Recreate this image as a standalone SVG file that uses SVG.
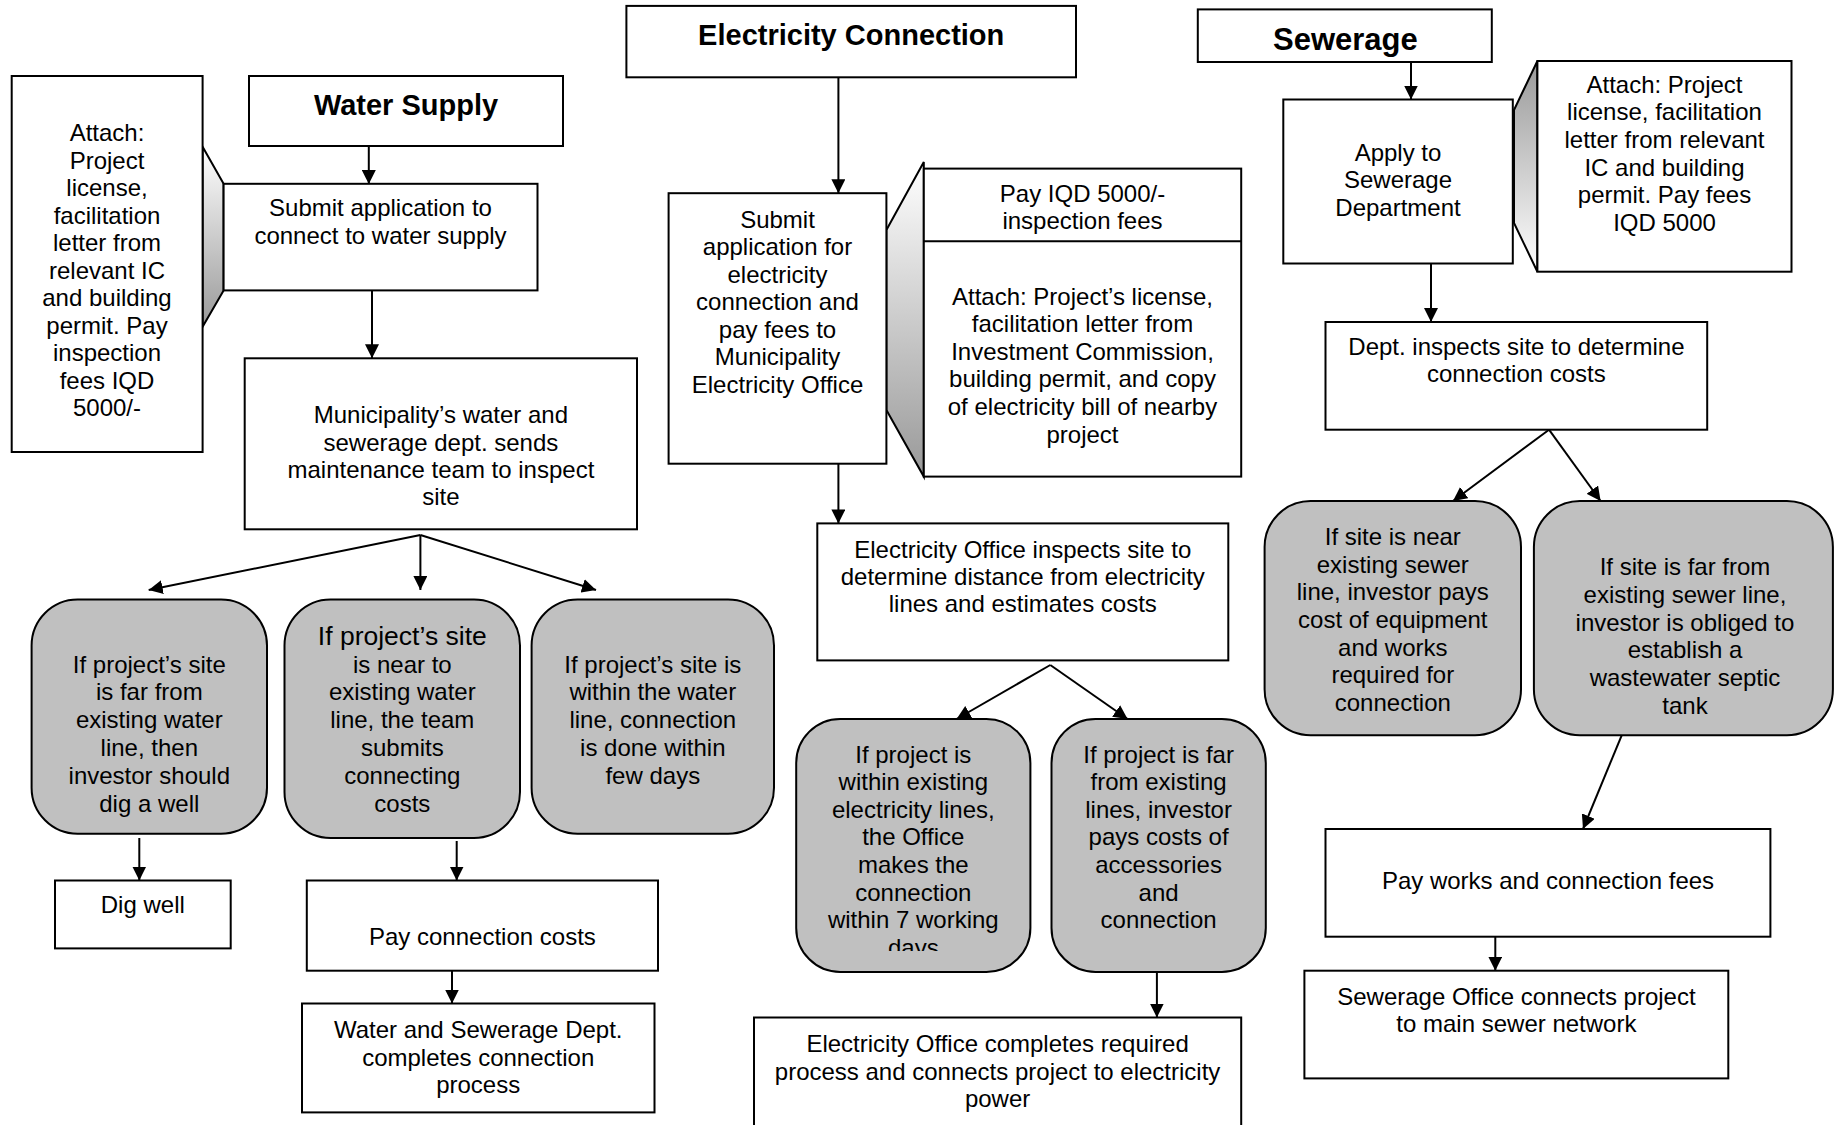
<svg xmlns="http://www.w3.org/2000/svg" width="1836" height="1125" viewBox="0 0 1836 1125">
<style>
.box{fill:#fff;stroke:#000;stroke-width:2}
.rbox{fill:#c0c0c0;stroke:#000;stroke-width:2}
.t{font-family:"Liberation Sans",Arial,sans-serif;font-size:24px;text-anchor:middle;fill:#000}
.h{font-weight:bold;font-size:29px}
.big{font-size:26.5px}
.conn line{stroke:#000;stroke-width:2;marker-end:url(#ah)}
.conn path{fill:none;stroke:#000;stroke-width:2}
.wedge{stroke:#000;stroke-width:2}
</style>
<defs>
<marker id="ah" markerUnits="userSpaceOnUse" markerWidth="15" markerHeight="14" refX="14" refY="7" orient="auto">
<path d="M0,0 L14,7 L0,14 z" fill="#000"/>
</marker>
<linearGradient id="gDown" x1="0" y1="0" x2="0" y2="1">
<stop offset="0" stop-color="#ffffff"/>
<stop offset="1" stop-color="#999999"/>
</linearGradient>
<linearGradient id="gUp" x1="0" y1="0" x2="0" y2="1">
<stop offset="0" stop-color="#999999"/>
<stop offset="1" stop-color="#ffffff"/>
</linearGradient>
<clipPath id="clipA"><rect x="796" y="719" width="235" height="232"/></clipPath>
</defs>
<rect width="1836" height="1125" fill="#fff"/>

<!-- wedges -->
<polygon class="wedge" points="202.6,146.7 223.6,183.8 223.6,290.4 202.6,326.7" fill="url(#gDown)"/>
<polygon class="wedge" points="886.4,230 923.8,162 923.8,476.6 886.4,410" fill="url(#gDown)"/>
<polygon class="wedge" points="1514,110 1537.4,61 1537.4,271.7 1514,223" fill="url(#gUp)"/>

<!-- Water supply -->
<g id="water-attach">
<rect class="box" x="11.7" y="76" width="190.9" height="376"/>
<text class="t"><tspan x="107" y="141">Attach:</tspan><tspan x="107" y="168.5">Project</tspan><tspan x="107" y="196">license,</tspan><tspan x="107" y="223.5">facilitation</tspan><tspan x="107" y="251">letter from</tspan><tspan x="107" y="278.5">relevant IC</tspan><tspan x="107" y="306">and building</tspan><tspan x="107" y="333.5">permit. Pay</tspan><tspan x="107" y="361">inspection</tspan><tspan x="107" y="388.5">fees IQD</tspan><tspan x="107" y="416">5000/-</tspan></text>
</g>
<g id="water-header">
<rect class="box" x="249" y="76" width="314" height="70"/>
<text class="t h" x="406" y="115">Water Supply</text>
</g>
<g id="water-submit">
<rect class="box" x="223.6" y="183.8" width="313.9" height="106.6"/>
<text class="t"><tspan x="380.5" y="215.5">Submit application to</tspan><tspan x="380.5" y="244">connect to water supply</tspan></text>
</g>
<g id="water-inspect">
<rect class="box" x="244.7" y="358.3" width="392.3" height="171"/>
<text class="t"><tspan x="440.9" y="423">Municipality’s water and</tspan><tspan x="440.9" y="451">sewerage dept. sends</tspan><tspan x="440.9" y="478">maintenance team to inspect</tspan><tspan x="440.9" y="505">site</tspan></text>
</g>
<g id="water-far">
<rect class="rbox" x="31.6" y="599.5" width="235.4" height="234.2" rx="46" ry="46"/>
<text class="t"><tspan x="149.3" y="672.5">If project’s site</tspan><tspan x="149.3" y="700.3">is far from</tspan><tspan x="149.3" y="728.1">existing water</tspan><tspan x="149.3" y="755.9">line, then</tspan><tspan x="149.3" y="783.7">investor should</tspan><tspan x="149.3" y="811.5">dig a well</tspan></text>
</g>
<g id="water-near">
<rect class="rbox" x="284.5" y="599.5" width="235.5" height="238.5" rx="46" ry="46"/>
<text class="t"><tspan class="big" x="402.3" y="645">If project’s site</tspan><tspan x="402.3" y="672.5">is near to</tspan><tspan x="402.3" y="700.3">existing water</tspan><tspan x="402.3" y="728.1">line, the team</tspan><tspan x="402.3" y="755.9">submits</tspan><tspan x="402.3" y="783.7">connecting</tspan><tspan x="402.3" y="811.5">costs</tspan></text>
</g>
<g id="water-within">
<rect class="rbox" x="531.6" y="599.5" width="242.4" height="234.2" rx="46" ry="46"/>
<text class="t"><tspan x="652.8" y="672.5">If project’s site is</tspan><tspan x="652.8" y="700.3">within the water</tspan><tspan x="652.8" y="728.1">line, connection</tspan><tspan x="652.8" y="755.9">is done within</tspan><tspan x="652.8" y="783.7">few days</tspan></text>
</g>
<g id="water-dig">
<rect class="box" x="55" y="880.5" width="175.7" height="67.9"/>
<text class="t" x="142.8" y="912.5">Dig well</text>
</g>
<g id="water-pay">
<rect class="box" x="306.8" y="880.5" width="351.2" height="90.2"/>
<text class="t" x="482.4" y="945">Pay connection costs</text>
</g>
<g id="water-complete">
<rect class="box" x="302" y="1003.5" width="352.5" height="108.9"/>
<text class="t"><tspan x="478.2" y="1037.5">Water and Sewerage Dept.</tspan><tspan x="478.2" y="1066">completes connection</tspan><tspan x="478.2" y="1093">process</tspan></text>
</g>

<!-- Electricity -->
<g id="elec-header">
<rect class="box" x="626.4" y="5.9" width="449.6" height="71.4"/>
<text class="t h" x="851.2" y="45">Electricity Connection</text>
</g>
<g id="elec-submit">
<rect class="box" x="668.6" y="193.2" width="217.8" height="270.5"/>
<text class="t"><tspan x="777.5" y="227.5">Submit</tspan><tspan x="777.5" y="255">application for</tspan><tspan x="777.5" y="282.5">electricity</tspan><tspan x="777.5" y="310">connection and</tspan><tspan x="777.5" y="337.5">pay fees to</tspan><tspan x="777.5" y="365">Municipality</tspan><tspan x="777.5" y="392.5">Electricity Office</tspan></text>
</g>
<g id="elec-attach">
<rect class="box" x="923.8" y="168.6" width="317.4" height="308"/>
<line x1="923.8" y1="241.2" x2="1241.2" y2="241.2" stroke="#000" stroke-width="2"/>
<text class="t"><tspan x="1082.5" y="202">Pay IQD 5000/-</tspan><tspan x="1082.5" y="228.5">inspection fees</tspan></text>
<text class="t"><tspan x="1082.5" y="304.5">Attach: Project’s license,</tspan><tspan x="1082.5" y="332.1">facilitation letter from</tspan><tspan x="1082.5" y="359.7">Investment Commission,</tspan><tspan x="1082.5" y="387.3">building permit, and copy</tspan><tspan x="1082.5" y="414.9">of electricity bill of nearby</tspan><tspan x="1082.5" y="442.5">project</tspan></text>
</g>
<g id="elec-inspect">
<rect class="box" x="817.3" y="523.4" width="411" height="137"/>
<text class="t"><tspan x="1022.8" y="557.7">Electricity Office inspects site to</tspan><tspan x="1022.8" y="584.6">determine distance from electricity</tspan><tspan x="1022.8" y="611.5">lines and estimates costs</tspan></text>
</g>
<g id="elec-within">
<rect class="rbox" x="796.2" y="719" width="234.2" height="252.9" rx="44" ry="44"/>
<text class="t" clip-path="url(#clipA)"><tspan x="913.3" y="762.5">If project is</tspan><tspan x="913.3" y="790.1">within existing</tspan><tspan x="913.3" y="817.7">electricity lines,</tspan><tspan x="913.3" y="845.3">the Office</tspan><tspan x="913.3" y="872.9">makes the</tspan><tspan x="913.3" y="900.5">connection</tspan><tspan x="913.3" y="928.1">within 7 working</tspan><tspan x="913.3" y="955.7">days</tspan></text>
</g>
<g id="elec-far">
<rect class="rbox" x="1051.5" y="719" width="214.3" height="252.9" rx="44" ry="44"/>
<text class="t"><tspan x="1158.6" y="762.5">If project is far</tspan><tspan x="1158.6" y="790.1">from existing</tspan><tspan x="1158.6" y="817.7">lines, investor</tspan><tspan x="1158.6" y="845.3">pays costs of</tspan><tspan x="1158.6" y="872.9">accessories</tspan><tspan x="1158.6" y="900.5">and</tspan><tspan x="1158.6" y="928.1">connection</tspan></text>
</g>
<g id="elec-complete">
<rect class="box" x="754" y="1017.5" width="487.2" height="120"/>
<text class="t"><tspan x="997.6" y="1051.8">Electricity Office completes required</tspan><tspan x="997.6" y="1079.9">process and connects project to electricity</tspan><tspan x="997.6" y="1106.8">power</tspan></text>
</g>

<!-- Sewerage -->
<g id="sewer-header">
<rect class="box" x="1197.8" y="9.4" width="294" height="52.6"/>
<text class="t h" style="font-size:31px" x="1345.4" y="49.5">Sewerage</text>
</g>
<g id="sewer-apply">
<rect class="box" x="1283.3" y="99.5" width="229.5" height="164"/>
<text class="t"><tspan x="1398" y="160.7">Apply to</tspan><tspan x="1398" y="188.2">Sewerage</tspan><tspan x="1398" y="215.7">Department</tspan></text>
</g>
<g id="sewer-attach">
<rect class="box" x="1537.4" y="61" width="254.1" height="210.7"/>
<text class="t"><tspan x="1664.5" y="92.8">Attach: Project</tspan><tspan x="1664.5" y="120.4">license, facilitation</tspan><tspan x="1664.5" y="148">letter from relevant</tspan><tspan x="1664.5" y="175.6">IC and building</tspan><tspan x="1664.5" y="203.2">permit. Pay fees</tspan><tspan x="1664.5" y="230.8">IQD 5000</tspan></text>
</g>
<g id="sewer-inspect">
<rect class="box" x="1325.5" y="322" width="381.7" height="107.7"/>
<text class="t"><tspan x="1516.4" y="355.1">Dept. inspects site to determine</tspan><tspan x="1516.4" y="382">connection costs</tspan></text>
</g>
<g id="sewer-near">
<rect class="rbox" x="1264.6" y="501" width="256.4" height="234.3" rx="46" ry="46"/>
<text class="t"><tspan x="1392.8" y="544.8">If site is near</tspan><tspan x="1392.8" y="572.5">existing sewer</tspan><tspan x="1392.8" y="600.2">line, investor pays</tspan><tspan x="1392.8" y="627.9">cost of equipment</tspan><tspan x="1392.8" y="655.6">and works</tspan><tspan x="1392.8" y="683.3">required for</tspan><tspan x="1392.8" y="711">connection</tspan></text>
</g>
<g id="sewer-far">
<rect class="rbox" x="1533.9" y="501" width="299" height="234.3" rx="46" ry="46"/>
<text class="t"><tspan x="1685" y="575.2">If site is far from</tspan><tspan x="1685" y="602.9">existing sewer line,</tspan><tspan x="1685" y="630.6">investor is obliged to</tspan><tspan x="1685" y="658.3">establish a</tspan><tspan x="1685" y="686">wastewater septic</tspan><tspan x="1685" y="713.7">tank</tspan></text>
</g>
<g id="sewer-pay">
<rect class="box" x="1325.5" y="829" width="444.9" height="107.7"/>
<text class="t" x="1548" y="889">Pay works and connection fees</text>
</g>
<g id="sewer-connect">
<rect class="box" x="1304.4" y="970.7" width="423.9" height="107.7"/>
<text class="t"><tspan x="1516.4" y="1004.9">Sewerage Office connects project</tspan><tspan x="1516.4" y="1031.9">to main sewer network</tspan></text>
</g>

<!-- connectors -->
<g id="connectors" class="conn">
<line x1="368.8" y1="146" x2="368.8" y2="184"/>
<line x1="372" y1="290.4" x2="372" y2="358.3"/>
<line x1="420.4" y1="535" x2="148.7" y2="590"/>
<line x1="420.4" y1="535" x2="420.4" y2="590"/>
<line x1="420.4" y1="535" x2="596" y2="590"/>
<line x1="139.3" y1="838" x2="139.3" y2="880.5"/>
<line x1="456.7" y1="841" x2="456.7" y2="880.5"/>
<line x1="452" y1="970.7" x2="452" y2="1003.5"/>
<line x1="838.4" y1="77.3" x2="838.4" y2="193.2"/>
<line x1="838.4" y1="463.7" x2="838.4" y2="523.4"/>
<line x1="1050.3" y1="665" x2="956.6" y2="719"/>
<line x1="1050.3" y1="665" x2="1127.6" y2="719"/>
<line x1="1156.9" y1="972" x2="1156.9" y2="1017.5"/>
<line x1="1411" y1="62" x2="1411" y2="99.5"/>
<line x1="1431" y1="263.5" x2="1431" y2="322"/>
<line x1="1549" y1="429.7" x2="1453" y2="501"/>
<line x1="1549" y1="429.7" x2="1600.6" y2="501"/>
<line x1="1621.7" y1="735.3" x2="1583" y2="829"/>
<line x1="1495.3" y1="936.7" x2="1495.3" y2="970.7"/>
</g>
</svg>
